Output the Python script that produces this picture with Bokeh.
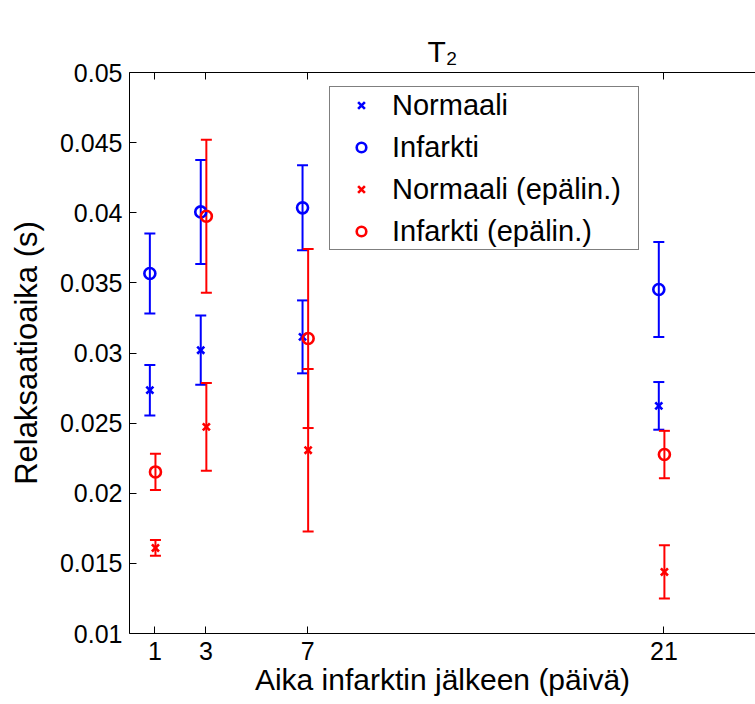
from bokeh.plotting import figure
from bokeh.models import (Range1d, FixedTicker, LinearAxis, Whisker, TeeHead,
                          ColumnDataSource, Legend, LegendItem, Title)
from bokeh.embed import file_html
from bokeh.resources import INLINE

# ---- data ----
days = [1, 3, 7, 21]
xtick_labels = ["1", "3", "7", "21"]
yticks = [0.01, 0.015, 0.02, 0.025, 0.03, 0.035, 0.04, 0.045, 0.05]
ytick_labels = ["0.01", "0.015", "0.02", "0.025", "0.03", "0.035", "0.04", "0.045", "0.05"]

normaali_mean = [0.02735, 0.0302, 0.03115, 0.02623]
normaali_err = [0.0018, 0.00247, 0.0026, 0.0017]
infarkti_mean = [0.03567, 0.04006, 0.04035, 0.03453]
infarkti_err = [0.00285, 0.00371, 0.00303, 0.00339]
normaali_epalin_mean = [0.0161, 0.02473, 0.02307, 0.01439]
normaali_epalin_err = [0.00056, 0.00313, 0.00579, 0.0019]
infarkti_epalin_mean = [0.02152, 0.03975, 0.03103, 0.02276]
infarkti_epalin_err = [0.00129, 0.00545, 0.00638, 0.00169]

labels = ["Normaali", "Infarkti", "Normaali (epälin.)", "Infarkti (epälin.)"]
title_text = "T\u2082"
xlabel = "Aika infarktin jälkeen (päivä)"
ylabel = "Relaksaatioaika (s)"

BLUE = "#0000FF"
RED = "#FF0000"
FONT = "Liberation Sans"
blue_shift = -0.2
red_shift = 0.02

W, H = 755, 704
LEFT, TOP, BOTTOM = 129, 72, 71
p = figure(width=W, height=H, output_backend="svg", toolbar_location=None,
           x_range=Range1d(0, 24.6), y_range=Range1d(0.01, 0.05),
           min_border_left=LEFT, min_border_right=0, min_border_top=TOP,
           min_border_bottom=BOTTOM)
p.outline_line_color = None
p.xgrid.visible = False
p.ygrid.visible = False
p.background_fill_color = "white"
p.border_fill_color = "white"

# axes
for ax in [p.xaxis[0], p.yaxis[0]]:
    ax.major_tick_in = 7
    ax.major_tick_out = 0
    ax.minor_tick_in = 0
    ax.minor_tick_out = 0
    ax.axis_line_color = "black"
    ax.major_tick_line_color = "black"
    ax.major_label_text_font = FONT
    ax.major_label_text_font_size = "25px"
    ax.major_label_text_color = "black"
    ax.axis_label_text_font = FONT
    ax.axis_label_text_font_style = "normal"
    ax.axis_label_text_color = "black"

p.xaxis.ticker = FixedTicker(ticks=days)
p.xaxis.major_label_overrides = {d: s for d, s in zip(days, xtick_labels)}
p.xaxis.major_label_standoff = 8
p.xaxis.axis_label = xlabel
p.xaxis.axis_label_standoff = 0
p.xaxis.axis_label_text_font_size = "30px"

p.yaxis.ticker = FixedTicker(ticks=yticks)
p.yaxis.major_label_overrides = {t: s for t, s in zip(yticks, ytick_labels)}
p.yaxis.major_label_standoff = 7
p.yaxis.axis_label = ylabel
p.yaxis.axis_label_standoff = 13
p.yaxis.axis_label_text_font_size = "31px"

top = LinearAxis(ticker=FixedTicker(ticks=days), major_tick_in=7, major_tick_out=0,
                 minor_tick_in=0, minor_tick_out=0, axis_line_color="black",
                 major_tick_line_color="black",
                 major_label_overrides={d: "" for d in days},
                 major_label_text_font_size="1px", major_label_standoff=16)
p.add_layout(top, "above")

p.title = Title(text=title_text, align="center", text_font=FONT,
                text_font_size="30px", text_font_style="normal",
                text_color="black", standoff=10, offset=-4)

series = [
    (normaali_mean, normaali_err, BLUE, "x", blue_shift, 10),
    (infarkti_mean, infarkti_err, BLUE, "circle", blue_shift, 11),
    (normaali_epalin_mean, normaali_epalin_err, RED, "x", red_shift, 10),
    (infarkti_epalin_mean, infarkti_epalin_err, RED, "circle", red_shift, 11),
]

legend_items = []
for (m, e, col, mk, sh, sz), lab in zip(series, labels):
    xs = [d + sh for d in days]
    src = ColumnDataSource(dict(x=xs, y=m,
                                upper=[a + b for a, b in zip(m, e)],
                                lower=[a - b for a, b in zip(m, e)]))
    w = Whisker(source=src, base="x", upper="upper", lower="lower", dimension="height",
                line_color=col, line_width=2,
                upper_head=TeeHead(size=11, line_color=col, line_width=2),
                lower_head=TeeHead(size=11, line_color=col, line_width=2))
    p.add_layout(w)
    r = p.scatter("x", "y", source=src, marker=mk, size=sz, line_color=col,
                  fill_color=None, line_width=2.6)
    legend_items.append(LegendItem(label=lab, renderers=[r]))

legend = Legend(items=legend_items, location=(200, 383), padding=0, margin=0,
                spacing=6, glyph_width=62, glyph_height=24, label_height=36,
                label_width=246, label_standoff=0,
                label_text_font=FONT, label_text_font_size="29px",
                label_text_color="black",
                border_line_color="black", border_line_width=1,
                background_fill_color="white", background_fill_alpha=1)
p.add_layout(legend)

open("out.html", "w").write(file_html(p, INLINE))
